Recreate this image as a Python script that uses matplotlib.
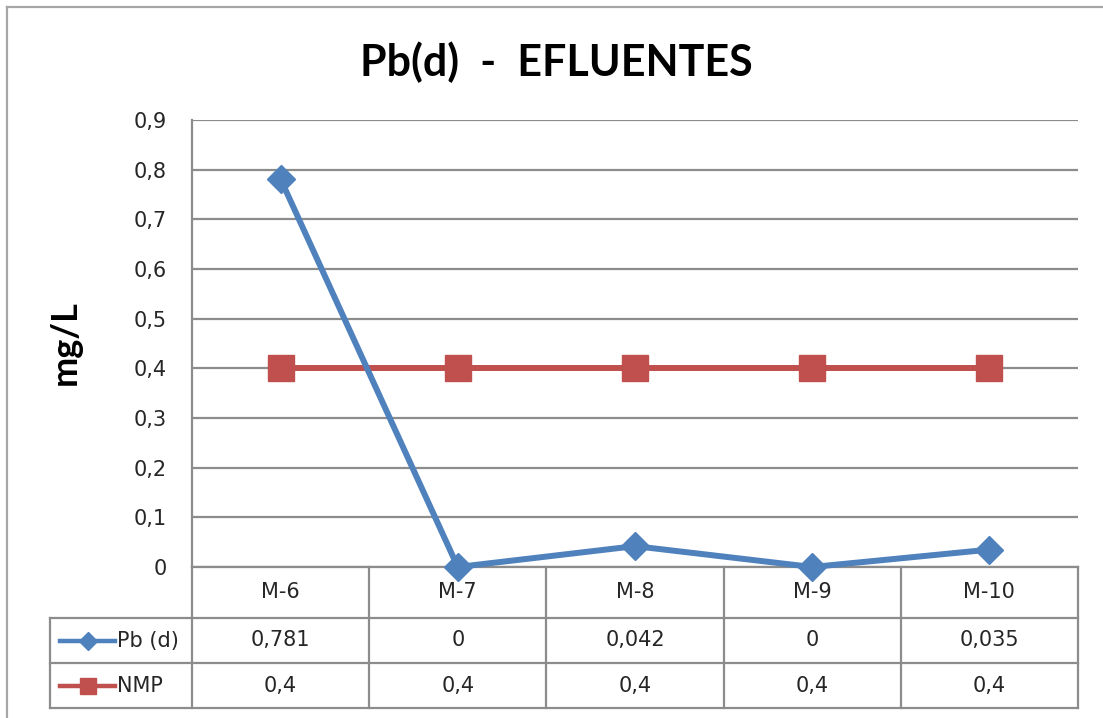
import numpy as np
import matplotlib
matplotlib.use('Agg')
import matplotlib.pyplot as plt
from matplotlib.lines import Line2D
import matplotlib.transforms as mtransforms

# --- data --------------------------------------------------------------------
muestras = ['M-6', 'M-7', 'M-8', 'M-9', 'M-10']
pb_d = [0.781, 0, 0.042, 0, 0.035]
nmp = [0.4, 0.4, 0.4, 0.4, 0.4]
pb_txt = ['0,781', '0', '0,042', '0', '0,035']
nmp_txt = ['0,4', '0,4', '0,4', '0,4', '0,4']
yticks = [0, 0.1, 0.2, 0.3, 0.4, 0.5, 0.6, 0.7, 0.8, 0.9]

BLUE = '#4F81BD'
RED = '#C0504D'
GRID = '#8C8C8C'
TXT = '#262626'
FS = 15

fig = plt.figure(figsize=(11.03, 7.18), dpi=100)
W, H = 1103, 718

# chart-area frame: only the top and left edges fall inside the canvas
fig.add_artist(Line2D([7 / W, 7 / W], [0, 1 - 7 / H], transform=fig.transFigure,
                      color='#A6A6A6', lw=1.6))
fig.add_artist(Line2D([7 / W, 1], [1 - 7 / H, 1 - 7 / H], transform=fig.transFigure,
                      color='#A6A6A6', lw=1.6))

ax = fig.add_axes([192 / W, (H - 567) / H, (1078 - 192) / W, (567 - 120) / H])
x = np.arange(len(muestras))

ax.plot(x, pb_d, color=BLUE, lw=4.3, marker='D', ms=14, mfc=BLUE, mec=BLUE,
        zorder=4, clip_on=False)
ax.plot(x, nmp, color=RED, lw=4.3, marker='s', ms=18.5, mfc=RED, mec=RED,
        zorder=3, clip_on=False)

ax.set_xlim(-0.5, len(muestras) - 0.5)
ax.set_ylim(0, 0.9)
ax.set_yticks(yticks)
ax.set_yticklabels([f'{v:.1f}'.replace('.', ',') if v else '0' for v in yticks],
                   fontsize=FS, color=TXT, family='DejaVu Sans')
ax.tick_params(axis='y', length=0, pad=18)
ax.set_xticks([])
ax.yaxis.grid(True, color=GRID, lw=1.6)
ax.set_axisbelow(True)
for side in ['top', 'right', 'bottom']:
    ax.spines[side].set_visible(False)
ax.spines['left'].set_color(GRID)
ax.spines['left'].set_linewidth(1.6)

fig.text(65 / W, 1 - 343 / H, 'mg/L', rotation=90, ha='center', va='center',
         fontsize=26, fontweight='bold', family='Lato')
fig.text(556 / W, 1 - 62 / H, 'Pb(d)  -  EFLUENTES', ha='center', va='center',
         fontsize=31, fontweight='bold', family='Lato')

# --- data table under the axis -------------------------------------------------
tr = mtransforms.blended_transform_factory(ax.transData, ax.transAxes)
ph = 567 - 120
r0, r1, r2, r3 = 0.0, -(618 - 567) / ph, -(663 - 567) / ph, -(708 - 567) / ph
col_w = (1078 - 192) / len(muestras)


def px2x(px):
    return (px - 192) / col_w - 0.5


xl = px2x(50)
xr = len(muestras) - 0.5
lk = dict(color=GRID, lw=1.6, transform=tr, clip_on=False)

ax.add_line(Line2D([-0.5, xr], [r0, r0], **lk))
for r in (r1, r2, r3):
    ax.add_line(Line2D([xl, xr], [r, r], **lk))
ax.add_line(Line2D([xl, xl], [r1, r3], **lk))
for b in np.arange(len(muestras) + 1) - 0.5:
    ax.add_line(Line2D([b, b], [r0, r3], **lk))

tk = dict(transform=tr, ha='center', va='center', fontsize=FS,
          color=TXT, family='DejaVu Sans', clip_on=False)
for i, m in enumerate(muestras):
    ax.text(i, (r0 + r1) / 2, m, **tk)
    ax.text(i, (r1 + r2) / 2, pb_txt[i], **tk)
    ax.text(i, (r2 + r3) / 2, nmp_txt[i], **tk)

# legend keys in the row headers
for (ya, yb), col, mk, ms, lab in [((r1, r2), BLUE, 'D', 9, 'Pb (d)'),
                                   ((r2, r3), RED, 's', 12, 'NMP')]:
    yc = (ya + yb) / 2
    ax.add_line(Line2D([px2x(60), px2x(115)], [yc, yc], color=col, lw=3.2,
                       transform=tr, clip_on=False))
    ax.add_line(Line2D([px2x(88)], [yc], marker=mk, ms=ms, color=col,
                       transform=tr, clip_on=False))
    ax.text(px2x(117), yc, lab, transform=tr, ha='left', va='center',
            fontsize=FS, color=TXT, family='DejaVu Sans', clip_on=False)

fig.savefig('out.png', dpi=100)
